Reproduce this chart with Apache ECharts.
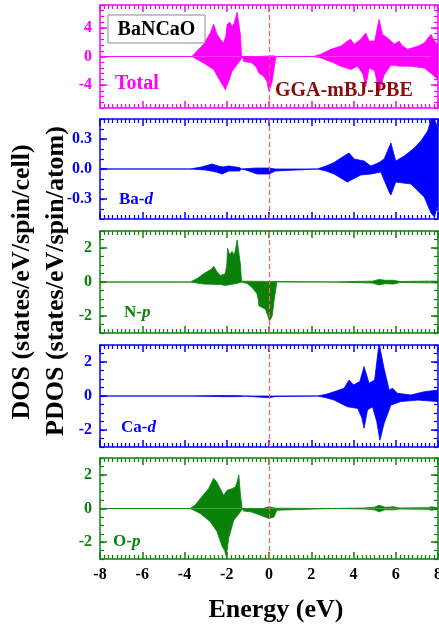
<!DOCTYPE html>
<html>
<head>
<meta charset="utf-8">
<script src="https://cdn.jsdelivr.net/npm/echarts@6/dist/echarts.min.js"></script>
<style>html,body{margin:0;padding:0;background:#fff}#c{width:439px;height:627px}</style>
</head>
<body>
<div id="c"></div>
<script>
// ---- data: [energy (eV), DOS] ----
const xTicks = [-8, -6, -4, -2, 0, 2, 4, 6, 8];
const totalUp = [[-8,0],[-3.65,0],[-3.4,0.8],[-3.1,1.7],[-2.78,3.3],[-2.62,4.5],[-2.46,3.1],[-2.3,2.4],[-2.15,1.9],[-2.05,2.8],[-1.98,4.5],[-1.85,4.8],[-1.75,4.2],[-1.65,4.6],[-1.58,4.4],[-1.51,6.2],[-1.43,6.4],[-1.35,3.0],[-1.3,0],[-0.5,0],[0.2,0.1],[0.35,0],[2.1,0],[2.45,0.3],[2.92,1.0],[3.4,1.45],[3.71,2.15],[3.87,2.4],[4.03,1.7],[4.34,2.4],[4.58,3.3],[4.74,2.15],[5.0,2.15],[5.21,5.2],[5.37,3.1],[5.69,2.4],[5.93,1.7],[6.16,2.15],[6.3,1.5],[6.56,1.0],[7.04,1.45],[7.35,1.9],[7.67,3.1],[7.83,2.15],[8,1.7]];
const totalDown = [[-8,0],[-3.65,0],[-3.1,-0.9],[-2.62,-1.8],[-2.3,-3.5],[-2.15,-4.2],[-2.07,-4.65],[-1.91,-3.5],[-1.75,-2.1],[-1.51,-1.1],[-1.3,-0.3],[-1.25,0],[-1.2,-0.65],[-0.8,-0.9],[-0.6,-1.5],[-0.48,-2.3],[-0.24,-2.8],[-0.1,-3.5],[0,-4.9],[0.15,-3.5],[0.31,-0.3],[0.35,0],[2.1,0],[2.45,-0.2],[3.0,-0.8],[3.4,-1.35],[3.87,-1.8],[4.2,-1.35],[4.45,-2.5],[4.58,-4.2],[4.74,-1.6],[5.0,-2.0],[5.21,-4.9],[5.45,-2.6],[5.77,-1.2],[6.24,-1.35],[6.7,-1.35],[7.35,-1.6],[7.75,-2.55],[8,-3.2]];
const baDUp = [[-8,0],[-3.73,0],[-3.2,0.02],[-2.7,0.05],[-2.4,0.03],[-2.2,0.02],[-1.9,0.03],[-1.4,0.015],[-1.3,0],[-0.6,0.01],[0,0.01],[0.3,0],[2.29,0],[2.7,0.03],[3.08,0.065],[3.55,0.13],[3.79,0.16],[4.03,0.10],[4.5,0.08],[4.82,0.03],[5.21,0.065],[5.45,0.10],[5.65,0.2],[5.77,0.26],[6.0,0.08],[6.4,0.13],[6.88,0.21],[7.19,0.28],[7.51,0.38],[7.75,0.55],[8,0.4]];
const baDDown = [[-8,0],[-3.73,0],[-3.0,-0.01],[-2.5,-0.03],[-2.22,-0.05],[-1.9,-0.02],[-1.4,-0.02],[-1.3,0],[-1.1,-0.01],[-0.56,-0.05],[0,-0.05],[0.3,-0.02],[0.35,0],[2.29,0],[2.7,-0.02],[3.08,-0.05],[3.71,-0.13],[4.34,-0.06],[4.82,-0.05],[5.29,-0.03],[5.69,-0.23],[5.77,-0.26],[6.0,-0.13],[6.72,-0.15],[6.96,-0.2],[7.35,-0.28],[7.67,-0.44],[7.83,-0.48],[8,-0.35]];
const nPUp = [[-8,0],[-3.73,0],[-3.4,0.2],[-3.1,0.48],[-2.7,0.78],[-2.62,0.92],[-2.46,0.6],[-2.3,0.38],[-2.07,0.48],[-2.0,1.0],[-1.96,1.98],[-1.86,1.6],[-1.75,1.8],[-1.67,1.6],[-1.6,1.8],[-1.51,2.48],[-1.43,2.55],[-1.35,1.0],[-1.3,0.05],[-1.25,0],[3.0,0],[4.0,0.03],[4.9,0.05],[5.2,0.15],[5.5,0.1],[5.9,0.1],[6.2,0.03],[7.5,0.05],[8,0.05]];
const nPDown = [[-8,0],[-3.73,0],[-3.1,-0.12],[-2.3,-0.15],[-2.07,-0.2],[-1.5,-0.08],[-1.3,0],[-1.2,-0.04],[-1.04,-0.08],[-0.8,-0.32],[-0.56,-0.7],[-0.5,-1.1],[-0.48,-1.4],[-0.17,-1.6],[-0.05,-2.0],[0.02,-2.3],[0.15,-2.0],[0.24,-1.1],[0.37,0],[3.0,0],[4.0,-0.03],[4.9,-0.06],[5.2,-0.17],[5.5,-0.1],[5.9,-0.12],[6.2,-0.03],[7.5,-0.05],[8,-0.06]];
const caDUp = [[-8,0],[-3.7,0],[-3.0,0.02],[-2.0,0.03],[-1.3,0.02],[-1.2,0],[2.29,0],[2.7,0.1],[3.08,0.25],[3.55,0.45],[3.79,0.94],[4.0,0.65],[4.3,0.85],[4.5,1.73],[4.58,1.8],[4.74,0.75],[5.0,0.94],[5.21,3.1],[5.45,1.6],[5.69,0.35],[5.85,0.45],[6.08,0.16],[6.72,0.06],[7.35,0.25],[8,0.35]];
const caDDown = [[-8,0],[-3.7,0],[-3.0,-0.02],[-2.0,-0.04],[-1.3,-0.03],[-1.2,0],[-0.6,-0.05],[0,-0.1],[0.3,-0.03],[0.35,0],[2.29,0],[2.7,-0.1],[3.08,-0.24],[3.71,-0.63],[4.2,-0.73],[4.4,-1.3],[4.5,-1.9],[4.66,-0.82],[4.9,-0.63],[5.1,-1.5],[5.25,-2.6],[5.45,-1.6],[5.77,-0.53],[6.24,-0.33],[7.04,-0.24],[8,-0.33]];
const oPUp = [[-8,0],[-3.73,0],[-3.5,0.2],[-3.25,0.59],[-2.86,1.18],[-2.62,1.8],[-2.46,1.55],[-2.15,0.78],[-1.98,1.08],[-1.75,1.18],[-1.59,1.27],[-1.5,1.6],[-1.43,2.0],[-1.35,0.8],[-1.27,0],[-0.3,0],[0,0.1],[0.3,0.02],[0.35,0],[3.0,0],[4.5,0.03],[5.0,0.08],[5.21,0.2],[5.5,0.07],[5.9,0.1],[6.2,0.03],[7.5,0.05],[7.7,0.1],[8,0.04]];
const oPDown = [[-8,0],[-3.73,0],[-3.25,-0.3],[-2.78,-0.78],[-2.46,-1.37],[-2.22,-2.25],[-2.1,-2.5],[-2.02,-2.85],[-1.91,-1.76],[-1.67,-0.7],[-1.35,-0.2],[-1.27,0],[-1.2,-0.15],[-0.85,-0.2],[-0.4,-0.4],[0,-0.6],[0.24,-0.5],[0.37,-0.1],[0.4,0],[3.0,0],[4.5,-0.03],[5.0,-0.08],[5.21,-0.2],[5.5,-0.07],[5.9,-0.08],[6.2,-0.03],[7.5,-0.05],[7.7,-0.1],[8,-0.04]];
const yTicksTotal = [-4, 0, 4];
const yTicksBa = [-0.3, 0, 0.3];
const yTicksPd = [-2, 0, 2];
const panelNames = ['Total', 'Ba-d', 'N-p', 'Ca-d', 'O-p'];

// ---- layout / styling ----
const FONT = '"Liberation Serif","Times New Roman",serif';
const MAG = '#ff00ff', BLUE = '#0000ff', GREEN = '#0a820a';
const panels = [
  {top: 5,   height: 103, color: MAG,   min: -7.2, max: 7.2, minor: 0.8, majors: yTicksTotal, up: totalUp, down: totalDown, fmt: v => String(v)},
  {top: 119, height: 100, color: BLUE,  min: -0.5, max: 0.5, minor: 0.1, majors: yTicksBa, up: baDUp, down: baDDown, fmt: v => v.toFixed(1)},
  {top: 231, height: 102, color: GREEN, min: -3, max: 3, minor: 0.5, majors: yTicksPd, up: nPUp, down: nPDown, fmt: v => String(v)},
  {top: 345, height: 102, color: BLUE,  min: -3, max: 3, minor: 0.5, majors: yTicksPd, up: caDUp, down: caDDown, fmt: v => String(v)},
  {top: 458, height: 101, color: GREEN, min: -3, max: 3, minor: 0.5, majors: yTicksPd, up: oPUp, down: oPDown, fmt: v => String(v)}
];
const isMajor = (v, majors) => majors.some(m => Math.abs(m - v) < 1e-6);

const grid = [], xAxis = [], yAxis = [], series = [];
panels.forEach((p, i) => {
  grid.push({left: 100, width: 338, top: p.top, height: p.height, outerBoundsMode: 'none', containLabel: false});
  const last = i === panels.length - 1;
  const lineS = {color: p.color, width: 1.5};
  ['bottom', 'top'].forEach(pos => {
    xAxis.push({
      gridIndex: i, type: 'value', position: pos, min: xTicks[0], max: xTicks[xTicks.length - 1], interval: 2,
      axisLine: {show: true, onZero: false, lineStyle: lineS},
      axisTick: {show: true, inside: true, length: 7, lineStyle: {color: p.color, width: 1.5}},
      minorTick: {show: true, splitNumber: 10, length: 4, lineStyle: {color: p.color, width: 1.2}},
      splitLine: {show: false},
      axisLabel: {show: last && pos === 'bottom', color: '#000', fontFamily: FONT, fontWeight: 'bold', fontSize: 16, margin: 8}
    });
  });
  const yBase = yAxis.length;
  ['left', 'right'].forEach(pos => {
    yAxis.push({
      gridIndex: i, type: 'value', position: pos, min: p.min, max: p.max, interval: p.minor,
      axisLine: {show: true, onZero: false, lineStyle: lineS},
      axisTick: {show: true, inside: true, length: 4, lineStyle: {color: p.color, width: 1.2}},
      splitLine: {show: false},
      axisLabel: {show: pos === 'left', showMinLabel: true, showMaxLabel: true, hideOverlap: false,
        formatter: v => isMajor(v, p.majors) ? p.fmt(Math.round(v * 10) / 10) : '',
        color: p.color, fontFamily: FONT, fontWeight: 'bold', fontSize: 16, margin: 8}
    });
    yAxis.push({
      gridIndex: i, type: 'value', position: pos, min: p.min, max: p.max,
      axisLine: {show: false, onZero: false},
      axisTick: {show: true, inside: true, length: 7, customValues: p.majors, lineStyle: {color: p.color, width: 1.5}},
      splitLine: {show: false},
      axisLabel: {show: false}
    });
  });
  [p.up, p.down].forEach((d, k) => {
    const s = {
      type: 'line', xAxisIndex: 2 * i, yAxisIndex: yBase, data: d,
      showSymbol: false, symbol: 'none', smooth: false, clip: true,
      lineStyle: {color: p.color, width: 0.8},
      areaStyle: {color: p.color, opacity: 1, origin: 0},
      silent: true
    };
    if (k === 0) {
      s.markLine = {
        silent: true, symbol: ['none', 'none'], label: {show: false}, z: 5,
        lineStyle: {color: '#ff5a5a', type: [5, 3], width: 1.2},
        data: [{xAxis: 0}]
      };
    }
    series.push(s);
  });
});

const txt = (text, x, y, color, size, extra) => Object.assign({
  type: 'text', x: x, y: y, z: 100,
  style: Object.assign({text: text, fill: color, font: 'bold ' + size + 'px ' + FONT, textAlign: 'left', textVerticalAlign: 'middle'}, extra || {})
});
const richLabel = (a, b, x, y, color) => ({
  type: 'text', x: x, y: y, z: 100,
  style: {
    text: '{n|' + a + '}{i|' + b + '}', textVerticalAlign: 'middle', textAlign: 'left',
    rich: {
      n: {fill: color, font: 'bold 17px ' + FONT},
      i: {fill: color, font: 'italic bold 17px ' + FONT}
    }
  }
});

const graphic = [
  {type: 'rect', z: 99, shape: {x: 108, y: 15, width: 97, height: 28}, style: {fill: '#fff', stroke: '#8a8a8a', lineWidth: 1}},
  txt('BaNCaO', 156.5, 29.5, '#000', 20, {textAlign: 'center'}),
  txt(panelNames[0], 115, 84, MAG, 20),
  txt('GGA-mBJ-PBE', 275, 91, '#8b0a0a', 20),
  richLabel('Ba-', 'd', 119, 200, BLUE),
  richLabel('N-', 'p', 124, 313, GREEN),
  richLabel('Ca-', 'd', 121, 428, BLUE),
  richLabel('O-', 'p', 113, 542, GREEN),
  txt('Energy (eV)', 276, 610, '#000', 26, {textAlign: 'center'}),
  Object.assign(txt('DOS (states/eV/spin/cell)', 22, 282, '#000', 26, {textAlign: 'center'}), {rotation: Math.PI / 2}),
  Object.assign(txt('PDOS (states/eV/spin/atom)', 56, 281, '#000', 26, {textAlign: 'center'}), {rotation: Math.PI / 2})
];

const chart = echarts.init(document.getElementById('c'), null, {renderer: 'canvas'});
chart.setOption({animation: false, backgroundColor: '#fff', grid, xAxis, yAxis, series, graphic});
</script>
</body>
</html>
